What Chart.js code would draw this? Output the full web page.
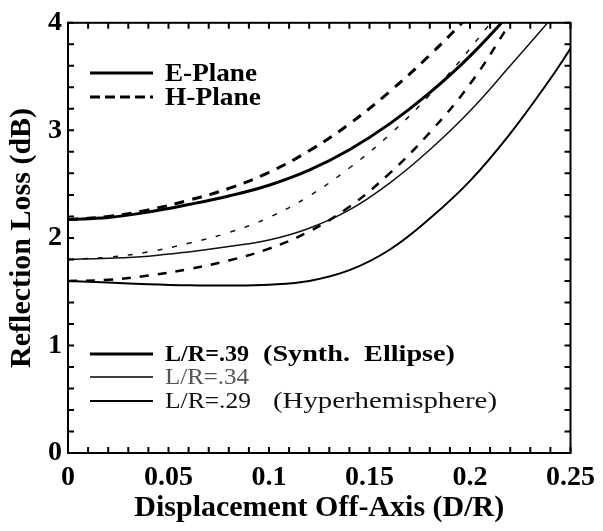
<!DOCTYPE html>
<html>
<head>
<meta charset="utf-8">
<script src="https://cdn.jsdelivr.net/npm/chart.js@4.4.1/dist/chart.umd.min.js"></script>
<style>
  html, body { margin: 0; padding: 0; background: #fff; }
  #wrap { width: 603px; height: 531px; }
</style>
</head>
<body>
<div id="wrap"><canvas id="c" width="603" height="531"></canvas></div>
<script>
// ---- data ----
const displacement = [0, 0.02, 0.04, 0.06, 0.08, 0.10, 0.12, 0.14, 0.16, 0.18, 0.20, 0.22, 0.24, 0.25];

const lr39E = [2.17, 2.19, 2.24, 2.31, 2.39, 2.49, 2.63, 2.82, 3.06, 3.35, 3.69, 4.09, 4.52, 4.75];
const lr39H = [2.17, 2.20, 2.26, 2.35, 2.46, 2.61, 2.81, 3.06, 3.36, 3.70, 4.08, 4.50, 4.95, 5.20];
const lr34E = [1.80, 1.81, 1.83, 1.87, 1.92, 1.98, 2.09, 2.26, 2.51, 2.82, 3.18, 3.60, 4.03, 4.25];
const lr34H = [1.80, 1.82, 1.87, 1.95, 2.05, 2.19, 2.39, 2.65, 2.96, 3.33, 3.76, 4.24, 4.75, 5.00];
const lr29E = [1.60, 1.585, 1.57, 1.56, 1.557, 1.565, 1.60, 1.70, 1.89, 2.18, 2.53, 2.97, 3.48, 3.76];
const lr29H = [1.60, 1.61, 1.65, 1.71, 1.79, 1.90, 2.06, 2.29, 2.60, 2.98, 3.43, 4.00, 4.60, 4.90];

const xTickLabels = ['0', '0.05', '0.1', '0.15', '0.2', '0.25'];
const yTickLabels = ['0', '1', '2', '3', '4'];

const planeLegend = ['E-Plane', 'H-Plane'];
const ratioLegend = [['L/R=.39', '(Synth.  Ellipse)'], ['L/R=.34', ''], ['L/R=.29', '(Hyperhemisphere)']];

// ---- helpers ----
const SERIF = '"Liberation Serif", "Times New Roman", serif';
function pts(ys) { return displacement.map((x, i) => ({ x: x, y: ys[i] })); }
function ds(label, ys, width, dash, color) {
  return {
    label: label, data: pts(ys), borderColor: color || '#000', borderWidth: width,
    borderDash: dash || [], pointRadius: 0, fill: false,
    tension: 0.4, borderCapStyle: 'butt'
  };
}

function fitText(ctx, text, x, y, w) {
  const m = ctx.measureText(text).width;
  ctx.save();
  ctx.translate(x, y);
  ctx.scale(w / m, 1);
  ctx.fillText(text, 0, 0);
  ctx.restore();
}

const frameAndTicks = {
  id: 'frameAndTicks',
  afterDraw(chart) {
    const ctx = chart.ctx, a = chart.chartArea;
    const xs = chart.scales.x, ys = chart.scales.y;
    ctx.save();
    ctx.strokeStyle = '#000';
    ctx.lineWidth = 2;
    ctx.strokeRect(a.left, a.top, a.right - a.left, a.bottom - a.top);
    const tl = 6;
    ctx.beginPath();
    for (let i = 0; i <= 25; i++) {
      const px = xs.getPixelForValue(i / 100);
      ctx.moveTo(px, a.bottom); ctx.lineTo(px, a.bottom - tl);
      ctx.moveTo(px, a.top); ctx.lineTo(px, a.top + tl);
    }
    for (let i = 0; i <= 20; i++) {
      const py = ys.getPixelForValue(i * 0.2);
      ctx.moveTo(a.left, py); ctx.lineTo(a.left + tl, py);
      ctx.moveTo(a.right, py); ctx.lineTo(a.right - tl, py);
    }
    ctx.stroke();

    // legends
    ctx.fillStyle = '#000';
    ctx.textBaseline = 'middle';
    ctx.textAlign = 'left';
    const lx0 = 90, lx1 = 153, tx = 165;
    const planeY = [73, 97];
    ctx.lineWidth = 3;
    ctx.setLineDash([]);
    ctx.beginPath(); ctx.moveTo(lx0, planeY[0]); ctx.lineTo(lx1, planeY[0]); ctx.stroke();
    ctx.setLineDash([10, 5]);
    ctx.beginPath(); ctx.moveTo(lx0, planeY[1]); ctx.lineTo(lx1, planeY[1]); ctx.stroke();
    ctx.setLineDash([]);
    ctx.font = 'bold 26px ' + SERIF;
    fitText(ctx, planeLegend[0], tx, planeY[0] + 1, 92);
    fitText(ctx, planeLegend[1], tx, planeY[1] + 1, 96);

    const rY = [354, 377, 401];
    const rW = [3, 1.3, 2];
    const rFont = ['bold 23px ' + SERIF, '23px ' + SERIF, '23px ' + SERIF];
    const rCol = ['#000', '#555', '#111'];
    const firstW = [84, 84, 86];
    const secondX = [263, 0, 273];
    const secondW = [192, 0, 224];
    for (let i = 0; i < 3; i++) {
      ctx.lineWidth = rW[i];
      ctx.strokeStyle = '#000';
      ctx.beginPath(); ctx.moveTo(lx0, rY[i]); ctx.lineTo(lx1, rY[i]); ctx.stroke();
      ctx.font = rFont[i];
      ctx.fillStyle = rCol[i];
      fitText(ctx, ratioLegend[i][0], tx, rY[i] + 1, firstW[i]);
      if (ratioLegend[i][1]) fitText(ctx, ratioLegend[i][1], secondX[i], rY[i] + 1, secondW[i]);
    }
    ctx.restore();
  }
};

new Chart(document.getElementById('c'), {
  type: 'line',
  data: {
    datasets: [
      ds('L/R=.39 E-Plane', lr39E, 3),
      ds('L/R=.39 H-Plane', lr39H, 3, [10, 8]),
      ds('L/R=.34 E-Plane', lr34E, 1.5, [], '#111'),
      ds('L/R=.34 H-Plane', lr34H, 1.5, [5, 10], '#111'),
      ds('L/R=.29 E-Plane', lr29E, 2),
      ds('L/R=.29 H-Plane', lr29H, 2.5, [9, 9])
    ]
  },
  options: {
    responsive: false,
    devicePixelRatio: 1,
    animation: false,
    layout: { padding: { top: 15, right: 28, left: 0, bottom: 0 } },
    plugins: { legend: { display: false }, tooltip: { enabled: false } },
    scales: {
      x: {
        type: 'linear', min: 0, max: 0.25,
        afterFit(s) { s.height = 78; },
        afterBuildTicks(s) { s.ticks = xTickLabels.map(t => ({ value: parseFloat(t) })); },
        ticks: {
          autoSkip: false, maxRotation: 0, color: '#000', padding: 8,
          font: { family: SERIF, size: 28, weight: 'bold' },
          callback(v, i) { return xTickLabels[i]; }
        },
        grid: { display: false, drawTicks: false },
        border: { display: false },
        title: {
          display: true, text: 'Displacement Off-Axis (D/R)', color: '#000',
          font: { family: SERIF, size: 30, weight: 'bold' }, padding: { top: 0, bottom: 5 }
        }
      },
      y: {
        type: 'linear', min: 0, max: 4,
        afterFit(s) { s.width = 68; },
        afterBuildTicks(s) { s.ticks = yTickLabels.map(t => ({ value: parseFloat(t) })); },
        ticks: {
          autoSkip: false, color: '#000', padding: 6,
          font: { family: SERIF, size: 28, weight: 'bold' },
          callback(v, i) { return yTickLabels[i]; }
        },
        grid: { display: false, drawTicks: false },
        border: { display: false },
        title: {
          display: true, text: 'Reflection Loss (dB)', color: '#000',
          font: { family: SERIF, size: 30, weight: 'bold' }, padding: { top: 4, bottom: 0 }
        }
      }
    }
  },
  plugins: [frameAndTicks]
});
</script>
</body>
</html>
